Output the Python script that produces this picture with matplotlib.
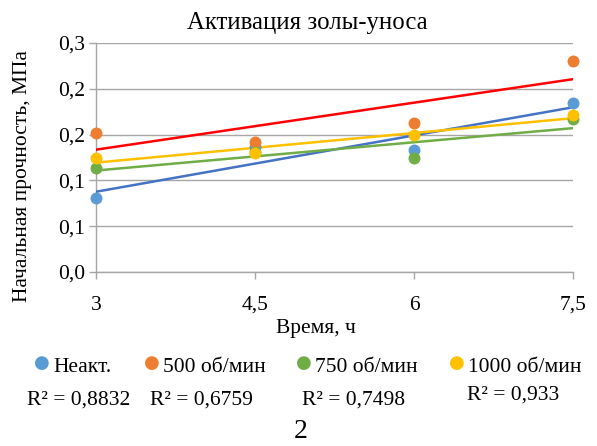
import numpy as np
import matplotlib.pyplot as plt

# data
hours = [3, 4.5, 6, 7.5]
x_ticklabels = ["3", "4,5", "6", "7,5"]
y_ticks = [0.0, 0.05, 0.10, 0.15, 0.20, 0.25]
y_ticklabels = ["0,0", "0,1", "0,1", "0,2", "0,2", "0,3"]

series_names = ["Неакт.", "500 об/мин", "750 об/мин", "1000 об/мин"]
neakt = [0.0805, 0.137, 0.1332, 0.1842]
rpm500 = [0.1521, 0.1423, 0.163, 0.2307]
rpm750 = [0.1132, 0.131, 0.1248, 0.1667]
rpm1000 = [0.1241, 0.1296, 0.1496, 0.1714]
r2_labels = ["R² = 0,8832", "R² = 0,6759", "R² = 0,7498", "R² = 0,933"]

marker_colors = ["#5B9BD5", "#ED7D31", "#70AD47", "#FFC000"]
trend_colors = ["#4472C4", "#FF0000", "#70AD47", "#FFC000"]

plt.rcParams['font.family'] = ['Liberation Serif', 'DejaVu Serif']
FS = 15.5

fig = plt.figure(figsize=(5.97, 4.46), dpi=100)
ax = fig.add_axes([0.1608, 0.3901, 0.799, 0.5135])

all_series = [neakt, rpm500, rpm750, rpm1000]
xs = np.array(hours)

# linear trend lines first, markers on top
for vals, col in zip(all_series, trend_colors):
    k, b = np.polyfit(xs, vals, 1)
    ax.plot([xs[0], xs[-1]], [k * xs[0] + b, k * xs[-1] + b], color=col, lw=1.8, zorder=3)

for vals, col in zip(all_series, marker_colors):
    ax.scatter(xs, vals, s=74, color=col, zorder=4, linewidths=0, clip_on=False)

ax.set_xlim(3, 7.5)
ax.set_ylim(0, 0.25)
ax.set_xticks(hours)
ax.set_xticklabels(x_ticklabels)
ax.set_yticks(y_ticks)
ax.set_yticklabels(y_ticklabels)
ax.grid(axis='y', color='#A6A6A6', lw=1)
ax.set_axisbelow(True)

for s in ['top', 'right']:
    ax.spines[s].set_visible(False)
for s in ['left', 'bottom']:
    ax.spines[s].set_color('#A6A6A6')
    ax.spines[s].set_linewidth(1)
ax.tick_params(axis='both', colors='#A6A6A6', length=5, width=1, labelcolor='black',
               labelsize=FS)
ax.tick_params(axis='x', pad=12)
ax.tick_params(axis='y', pad=3)

# titles placed in figure coords
fig.text(0.515, 0.935, "Активация золы-уноса", fontsize=17.8, ha='center', va='baseline')
fig.text(0.529, 0.253, "Время, ч", fontsize=FS, ha='center', va='baseline')
fig.text(0.037, 0.605, "Начальная прочность, МПа", fontsize=FS, rotation=90,
         ha='center', va='center')

# legend row, drawn by hand to match the spacing
mark_x = [0.0698, 0.254, 0.509, 0.765]
text_x = [0.0888, 0.273, 0.528, 0.784]
for name, col, mx, tx in zip(series_names, marker_colors, mark_x, text_x):
    fig.text(mx, 0.186, "●", color=col, fontsize=13, ha='center', va='center',
             family=['DejaVu Sans'])
    fig.text(tx, 0.166, name, fontsize=FS, ha='left', va='baseline')

r2_pos = [(0.045, 0.094), (0.251, 0.094), (0.506, 0.094), (0.782, 0.105)]
for txt, (rx, ry) in zip(r2_labels, r2_pos):
    fig.text(rx, ry, txt, fontsize=FS, ha='left', va='baseline')

fig.text(0.503, 0.018, "2", fontsize=20, ha='center', va='baseline')

plt.savefig("out.png", dpi=100)
